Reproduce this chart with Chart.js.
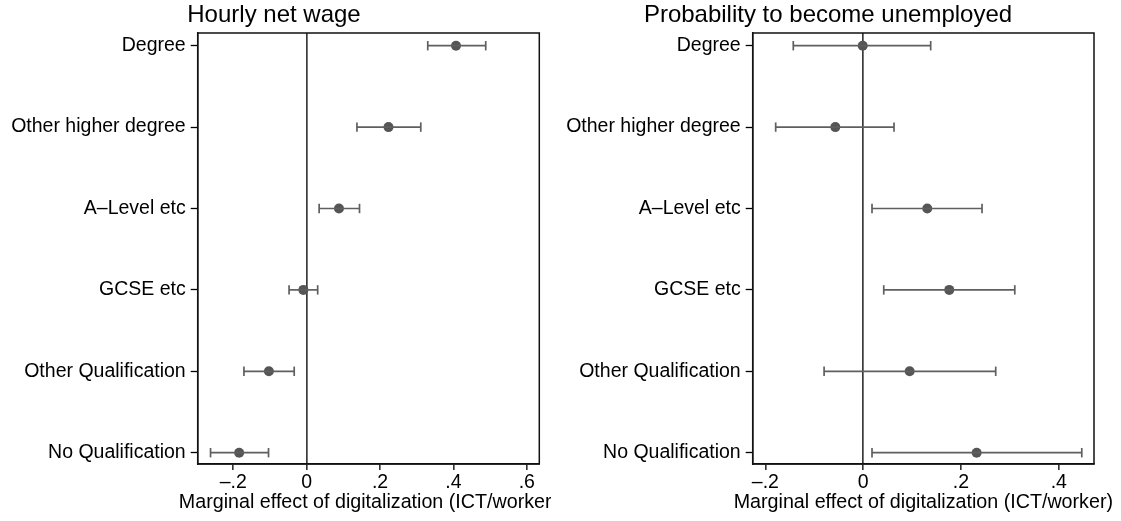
<!DOCTYPE html>
<html><head><meta charset="utf-8">
<script src="https://cdn.jsdelivr.net/npm/chart.js@4.4.1/dist/chart.umd.min.js"></script>
<style>
html,body{margin:0;padding:0;background:#fff;width:1121px;height:521px;overflow:hidden}
canvas{position:absolute;top:0}
#c1{left:0}
#c2{left:556px}
</style></head><body>
<canvas id="c1" width="551" height="521"></canvas>
<canvas id="c2" width="565" height="521"></canvas>
<script>
const categories = ['Degree','Other higher degree','A\u2013Level etc','GCSE etc','Other Qualification','No Qualification'];
const wageEst  = [0.407, 0.223, 0.088, -0.009, -0.103, -0.184];
const wageLo   = [0.330, 0.137, 0.034, -0.048, -0.171, -0.262];
const wageHi   = [0.488, 0.311, 0.144,  0.030, -0.034, -0.104];
const unempEst = [-0.001, -0.057, 0.131, 0.176, 0.095, 0.232];
const unempLo  = [-0.143, -0.179, 0.018, 0.042, -0.080, 0.018];
const unempHi  = [ 0.138,  0.063, 0.243, 0.310,  0.271, 0.447];
const wageTicks = [-0.2, 0, 0.2, 0.4, 0.6];
const wageTickLabels = ['\u2013.2','0','.2','.4','.6'];
const unempTicks = [-0.2, 0, 0.2, 0.4];
const unempTickLabels = ['\u2013.2','0','.2','.4'];
const panelTitles = ['Hourly net wage','Probability to become unemployed'];
const xAxisTitle = 'Marginal effect of digitalization (ICT/worker)';

const FONT = "'Liberation Sans', Arial, Helvetica, sans-serif";
const MARK = '#5f5f5f';

const boxPlugin = {
  id: 'plotBox',
  afterDatasetsDraw(chart) {
    const a = chart.chartArea, ctx = chart.ctx;
    ctx.save();
    ctx.strokeStyle = '#111';
    ctx.lineWidth = 1.5;
    ctx.strokeRect(a.left, a.top, a.right - a.left, a.bottom - a.top);
    ctx.restore();
  }
};

// panel title and x-axis title drawn as text without width compression
const textPlugin = {
  id: 'panelText',
  afterDraw(chart, args, opts) {
    const ctx = chart.ctx, a = chart.chartArea;
    ctx.save();
    ctx.fillStyle = '#000';
    ctx.textAlign = 'center';
    ctx.textBaseline = 'alphabetic';
    ctx.font = '24px ' + FONT;
    ctx.fillText(opts.title, opts.titleX, 22);
    ctx.font = '19.7px ' + FONT;
    ctx.fillText(opts.axisTitle, (a.left + a.right) / 2, 508);
    ctx.restore();
  }
};

function makePanel(id, est, lo, hi, ticks, tickLabels, title, lay) {
  const datasets = [];
  est.forEach((v, i) => {
    datasets.push({
      type: 'line',
      data: [{x: lo[i], y: i}, {x: hi[i], y: i}],
      borderColor: MARK, borderWidth: 1.7,
      pointStyle: 'line', pointRotation: 90, pointRadius: 4.7,
      pointBorderWidth: 1.7, pointBorderColor: MARK, pointBackgroundColor: MARK,
      clip: false
    });
  });
  datasets.push({
    type: 'scatter',
    data: est.map((v, i) => ({x: v, y: i})),
    pointRadius: 5, pointBackgroundColor: '#555', pointBorderColor: '#555', pointBorderWidth: 0,
    clip: false
  });
  return new Chart(document.getElementById(id), {
    type: 'scatter',
    data: { datasets },
    plugins: [boxPlugin, textPlugin],
    options: {
      responsive: false, animation: false, events: [],
      layout: { padding: { left: 0, right: lay.padRight, top: 33, bottom: 0 } },
      plugins: {
        legend: { display: false }, tooltip: { enabled: false }, title: { display: false },
        panelText: { title: title, titleX: lay.titleX, axisTitle: xAxisTitle }
      },
      scales: {
        x: {
          type: 'linear', min: lay.xmin, max: lay.xmax,
          afterBuildTicks: s => { s.ticks = ticks.map(v => ({value: v})); },
          afterFit: s => { s.height = 57; },
          ticks: { autoSkip: false, maxRotation: 0, padding: 1, color: '#000',
            font: { family: FONT, size: 19.5 },
            callback: (v, i) => tickLabels[i] },
          grid: { drawOnChartArea: true, drawTicks: true, tickLength: 6, tickColor: '#000', tickWidth: 1.3,
            lineWidth: 1.7,
            color: c => (c.tick && c.tick.value === 0) ? '#3a3a3a' : 'rgba(0,0,0,0)' },
          border: { display: true, color: '#111', width: 1.5 },
          title: { display: false }
        },
        y: {
          type: 'linear', min: -0.156, max: 5.139, reverse: true,
          afterBuildTicks: s => { s.ticks = categories.map((c, i) => ({value: i})); },
          afterFit: s => { s.width = lay.yWidth; },
          ticks: { autoSkip: false, padding: 5, color: '#000',
            font: { family: FONT, size: 19.5 },
            callback: (v, i) => categories[i] },
          grid: { drawOnChartArea: false, drawTicks: true, tickLength: 7, tickColor: '#000', tickWidth: 1.3 },
          border: { display: true, color: '#111', width: 1.5 }
        }
      }
    }
  });
}

makePanel('c1', wageEst, wageLo, wageHi, wageTicks, wageTickLabels, panelTitles[0],
  { xmin: -0.297, xmax: 0.634, yWidth: 197.7, padRight: 11.7, titleX: 274 });
makePanel('c2', unempEst, unempLo, unempHi, unempTicks, unempTickLabels, panelTitles[1],
  { xmin: -0.226, xmax: 0.472, yWidth: 196.7, padRight: 27, titleX: 272 });
</script>
</body></html>
